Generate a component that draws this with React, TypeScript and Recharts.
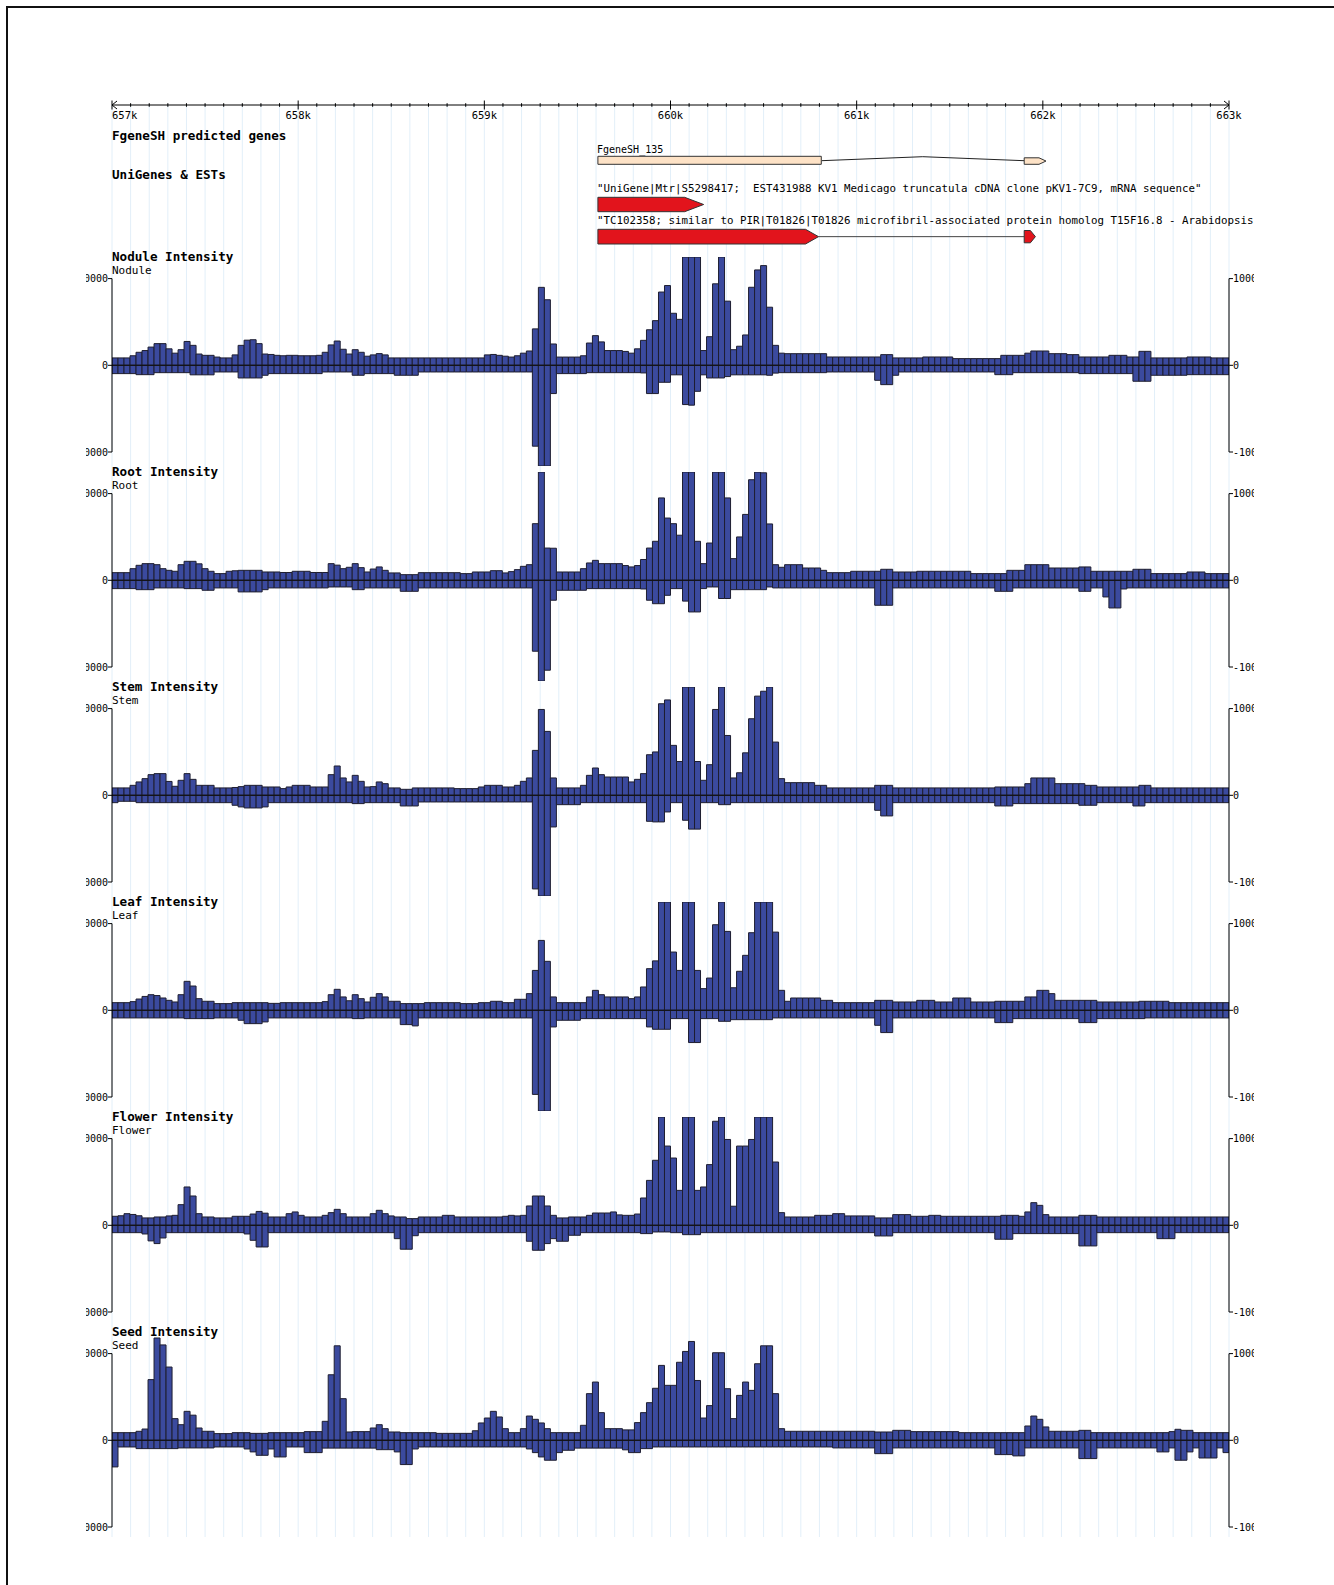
import React from 'react';
import { BarChart, Bar, XAxis, YAxis, ReferenceLine, ReferenceArea, ComposedChart, Line } from 'recharts';

// ---------------- data ----------------
const REGION_START = 657000;
const REGION_END = 663000;
const BIN_COUNT = 186;
const RULER_STEP = 100;
const Y_TICKS = [-10000, 0, 10000];

const TRACKS = ['Nodule', 'Root', 'Stem', 'Leaf', 'Flower', 'Seed'];

const NODULE_POS = [
  850, 850, 850, 1100, 1500, 1700, 2100, 2500, 2500, 1900,
  1400, 1800, 2750, 2300, 1300, 1150, 1150, 950, 850, 850,
  1200, 2300, 2900, 2950, 2500, 1300, 1250, 1150, 1100, 1150,
  1150, 1100, 1100, 1100, 1150, 1500, 2350, 2800, 1850, 1300,
  1800, 1500, 1050, 1200, 1350, 1200, 850, 850, 850, 850,
  850, 850, 850, 850, 850, 850, 850, 850, 850, 850,
  850, 850, 1200, 1250, 1150, 1050, 950, 1100, 1400, 1650,
  4200, 8990, 7560, 2460, 950, 950, 950, 950, 1100, 2570,
  3420, 2700, 1700, 1700, 1700, 1600, 1400, 1900, 2880, 4100,
  5150, 8450, 9200, 6000, 5300, 13000, 13000, 13000, 1700, 3300,
  9400, 13000, 7400, 1800, 2200, 3500, 9000, 11000, 11500, 6700,
  2300, 1400, 1340, 1340, 1340, 1340, 1340, 1340, 1340, 960,
  960, 960, 960, 960, 960, 960, 960, 960, 1230, 1230,
  850, 850, 850, 850, 850, 960, 960, 960, 960, 960,
  770, 770, 770, 770, 770, 770, 770, 770, 1150, 1150,
  1150, 1150, 1400, 1650, 1650, 1650, 1340, 1340, 1340, 1230,
  1230, 960, 960, 960, 960, 960, 1150, 1150, 1150, 960,
  960, 1610, 1610, 850, 850, 850, 850, 850, 850, 960,
  960, 960, 960, 850, 850, 850,
];
const NODULE_NEG = [
  -960, -960, -960, -960, -1080, -1080, -1080, -850, -850, -850,
  -850, -850, -850, -1100, -1100, -1100, -1100, -770, -770, -770,
  -770, -1460, -1460, -1460, -1460, -1150, -960, -960, -960, -960,
  -960, -960, -960, -960, -960, -770, -770, -770, -770, -770,
  -1150, -1150, -960, -960, -960, -960, -960, -1150, -1150, -1150,
  -1150, -770, -770, -770, -770, -770, -770, -770, -770, -770,
  -770, -770, -770, -770, -770, -770, -770, -770, -770, -770,
  -9330, -13000, -13000, -3260, -960, -960, -960, -960, -960, -850,
  -850, -850, -850, -850, -850, -850, -850, -850, -880, -3260,
  -3260, -1960, -1960, -1100, -1100, -4530, -4600, -3000, -1100, -1460,
  -1460, -1460, -1300, -1100, -1100, -1100, -1100, -1100, -1100, -1150,
  -900, -850, -850, -850, -850, -850, -850, -850, -850, -770,
  -770, -770, -770, -770, -770, -770, -770, -1730, -2230, -2230,
  -1150, -770, -770, -770, -770, -770, -770, -770, -770, -770,
  -770, -770, -770, -770, -770, -770, -770, -1080, -1080, -1080,
  -850, -850, -850, -850, -850, -850, -850, -850, -850, -850,
  -850, -960, -960, -960, -960, -960, -960, -960, -960, -960,
  -1840, -1840, -1840, -1150, -1150, -1150, -1150, -1150, -1150, -1080,
  -1080, -1080, -1080, -1080, -1080, -1080,
];

const ROOT_POS = [
  880, 880, 880, 1340, 1730, 1920, 1920, 1800, 1340, 1150,
  1040, 1800, 2190, 2190, 1900, 1340, 1040, 770, 770, 1040,
  1100, 1150, 1150, 1150, 1150, 960, 960, 960, 900, 900,
  1040, 1040, 1040, 900, 900, 900, 1920, 1750, 1340, 1500,
  1920, 1460, 960, 1300, 1540, 1150, 850, 850, 650, 650,
  650, 880, 880, 880, 880, 880, 880, 880, 770, 770,
  960, 960, 960, 1110, 1110, 850, 1000, 1230, 1610, 1800,
  6530, 13000, 3720, 3700, 960, 960, 960, 960, 1340, 2000,
  2300, 1920, 1920, 1920, 1920, 1700, 1540, 1700, 2400, 3720,
  4500, 9500, 7180, 6530, 5200, 13000, 13000, 4500, 1920, 4300,
  13000, 13000, 9500, 2500, 5000, 7600, 11600, 13000, 12400, 6500,
  1800, 1500, 1800, 1800, 1800, 1420, 1420, 1420, 1150, 880,
  880, 880, 880, 1040, 1040, 1040, 1040, 1040, 1270, 1270,
  960, 960, 960, 960, 1040, 1040, 1040, 1040, 1040, 1040,
  1040, 1040, 1040, 770, 770, 770, 770, 770, 770, 1150,
  1150, 1150, 1800, 1800, 1800, 1800, 1420, 1420, 1420, 1420,
  1420, 1540, 1540, 1040, 1040, 1040, 1040, 1040, 1040, 1040,
  1270, 1270, 1270, 770, 770, 770, 770, 770, 770, 960,
  960, 960, 770, 770, 770, 770,
];
const ROOT_NEG = [
  -960, -960, -960, -960, -1080, -1080, -1080, -880, -880, -880,
  -880, -880, -960, -960, -960, -1150, -1150, -880, -880, -880,
  -880, -1340, -1340, -1340, -1340, -1080, -880, -880, -880, -880,
  -880, -880, -880, -880, -880, -880, -770, -770, -770, -770,
  -1080, -1080, -880, -880, -880, -880, -880, -880, -1270, -1270,
  -1270, -880, -880, -880, -880, -880, -880, -880, -880, -880,
  -880, -880, -880, -880, -880, -880, -880, -880, -880, -880,
  -8180, -13000, -10370, -2300, -1150, -1150, -1150, -1150, -1150, -960,
  -960, -960, -960, -960, -960, -960, -960, -960, -1000, -2300,
  -2700, -2700, -1730, -960, -960, -2400, -3650, -3650, -960, -770,
  -770, -2100, -2100, -1080, -1080, -1080, -1080, -1080, -1080, -770,
  -880, -880, -880, -880, -880, -880, -880, -880, -880, -880,
  -880, -880, -880, -880, -880, -880, -880, -2880, -2880, -2880,
  -880, -880, -880, -880, -880, -880, -880, -880, -880, -880,
  -880, -880, -880, -880, -880, -880, -880, -1270, -1270, -1270,
  -880, -880, -880, -880, -880, -880, -880, -880, -880, -880,
  -880, -1270, -1270, -880, -880, -1920, -3190, -3190, -1000, -880,
  -880, -880, -880, -880, -880, -880, -880, -880, -880, -880,
  -880, -880, -880, -880, -880, -880,
];

const STEM_POS = [
  850, 850, 850, 1150, 1540, 1920, 2380, 2500, 2500, 1600,
  1040, 1730, 2500, 1840, 1150, 1150, 1150, 850, 850, 850,
  900, 1000, 1150, 1150, 1150, 960, 960, 960, 770, 960,
  1150, 1150, 1150, 960, 960, 960, 2380, 3380, 2000, 1540,
  2300, 1610, 960, 1000, 1540, 1340, 850, 850, 690, 690,
  850, 850, 850, 850, 850, 850, 850, 770, 770, 770,
  770, 960, 1150, 1150, 1150, 960, 960, 1150, 1610, 2000,
  5180, 9900, 7370, 2000, 850, 850, 850, 850, 1150, 2300,
  3150, 2380, 2110, 2110, 2110, 2110, 1540, 1840, 2500, 4680,
  5000, 10560, 11000, 5760, 3900, 13000, 13000, 3900, 1730, 3530,
  9900, 13000, 6900, 2000, 2600, 4900, 8830, 11440, 12000, 13000,
  6140, 1920, 1460, 1460, 1460, 1460, 1460, 1150, 1150, 850,
  850, 850, 850, 850, 850, 850, 850, 1150, 1150, 1150,
  850, 850, 850, 850, 850, 850, 850, 850, 850, 850,
  850, 850, 850, 850, 850, 850, 850, 960, 960, 960,
  960, 960, 1340, 2000, 2000, 2000, 2000, 1340, 1340, 1340,
  1340, 1340, 1150, 1150, 960, 960, 960, 960, 960, 960,
  960, 1150, 1150, 850, 850, 850, 850, 850, 850, 850,
  850, 850, 850, 850, 850, 850,
];
const STEM_NEG = [
  -850, -690, -690, -690, -850, -850, -850, -850, -850, -850,
  -850, -850, -850, -850, -850, -850, -850, -850, -850, -850,
  -1150, -1340, -1460, -1460, -1460, -1340, -850, -850, -850, -850,
  -850, -850, -850, -850, -850, -850, -850, -850, -850, -850,
  -960, -960, -850, -850, -850, -850, -850, -850, -1230, -1230,
  -1230, -770, -770, -770, -770, -770, -770, -770, -770, -770,
  -770, -770, -770, -770, -770, -770, -770, -770, -770, -770,
  -10800, -13000, -13000, -3650, -1080, -1080, -1080, -1080, -850, -850,
  -850, -850, -850, -850, -850, -850, -850, -850, -850, -3000,
  -3070, -3070, -1920, -850, -850, -2880, -3900, -3900, -850, -850,
  -850, -1080, -1080, -850, -850, -850, -850, -850, -850, -850,
  -850, -850, -850, -850, -850, -850, -850, -850, -850, -850,
  -850, -850, -850, -850, -850, -850, -850, -1730, -2380, -2380,
  -850, -850, -850, -850, -850, -850, -850, -850, -850, -850,
  -850, -850, -850, -850, -850, -850, -850, -1230, -1230, -1230,
  -960, -960, -960, -960, -960, -960, -960, -960, -960, -960,
  -960, -1150, -1150, -1150, -850, -850, -850, -850, -850, -850,
  -1230, -1230, -850, -850, -850, -850, -850, -850, -850, -850,
  -850, -850, -850, -850, -850, -850,
];

const LEAF_POS = [
  880, 880, 880, 1000, 1300, 1600, 1800, 1700, 1420, 1150,
  960, 1800, 3340, 2800, 1340, 1040, 1040, 770, 770, 770,
  880, 880, 880, 880, 880, 880, 800, 800, 880, 880,
  880, 880, 880, 880, 880, 1000, 1800, 2420, 1540, 1100,
  1800, 1340, 960, 1500, 1920, 1540, 1040, 1040, 770, 770,
  770, 770, 880, 880, 880, 880, 880, 880, 770, 770,
  770, 880, 880, 1040, 1040, 880, 880, 1270, 1270, 1920,
  4600, 8060, 5650, 1540, 880, 880, 880, 880, 880, 1540,
  2300, 1800, 1540, 1540, 1540, 1540, 1340, 1540, 2690, 4800,
  5700, 13000, 13000, 6720, 4600, 13000, 13000, 4600, 2500, 3720,
  9870, 13000, 9100, 2600, 4500, 6340, 8950, 13000, 13000, 13000,
  9020, 2300, 1040, 1420, 1420, 1420, 1420, 1420, 1150, 1150,
  880, 880, 880, 880, 880, 880, 880, 1150, 1150, 1150,
  960, 960, 960, 960, 1150, 1150, 1150, 960, 960, 960,
  1420, 1420, 1420, 960, 960, 960, 960, 1040, 1040, 1040,
  1040, 1040, 1540, 1540, 2300, 2300, 1920, 1150, 1150, 1150,
  1150, 1150, 1150, 1150, 960, 960, 960, 960, 960, 960,
  960, 1040, 1040, 1040, 1040, 1040, 880, 880, 880, 880,
  880, 880, 880, 880, 880, 880,
];
const LEAF_NEG = [
  -880, -880, -880, -880, -880, -880, -880, -880, -880, -880,
  -880, -880, -960, -960, -960, -960, -960, -880, -880, -880,
  -880, -1150, -1540, -1540, -1540, -1340, -880, -880, -880, -880,
  -880, -880, -880, -880, -880, -880, -880, -880, -880, -880,
  -960, -960, -880, -880, -880, -880, -880, -880, -1650, -1650,
  -1800, -880, -880, -880, -880, -880, -880, -880, -880, -880,
  -880, -880, -880, -880, -880, -880, -880, -880, -880, -880,
  -9700, -13000, -13000, -1920, -1150, -1150, -1150, -1150, -960, -960,
  -960, -960, -960, -960, -960, -960, -960, -960, -960, -1920,
  -2190, -2190, -2190, -960, -960, -960, -3720, -3720, -960, -960,
  -960, -1270, -1270, -1080, -1080, -1080, -1080, -1080, -1080, -1080,
  -880, -880, -880, -880, -880, -880, -880, -880, -880, -880,
  -880, -880, -880, -880, -880, -880, -880, -1730, -2570, -2570,
  -880, -880, -880, -880, -880, -880, -880, -880, -880, -880,
  -880, -880, -880, -880, -880, -880, -880, -1420, -1420, -1420,
  -960, -960, -960, -960, -960, -960, -960, -960, -960, -960,
  -960, -1420, -1420, -1420, -960, -960, -960, -960, -960, -960,
  -960, -960, -880, -880, -880, -880, -880, -880, -880, -880,
  -880, -880, -880, -880, -880, -880,
];

const FLOWER_POS = [
  1040, 1100, 1340, 1250, 1100, 850, 850, 960, 960, 1080,
  1150, 2380, 4420, 3380, 1340, 960, 960, 850, 850, 850,
  1040, 1040, 1040, 1300, 1600, 1400, 960, 960, 960, 1340,
  1540, 1150, 960, 960, 960, 1150, 1460, 1840, 1340, 960,
  960, 960, 960, 1340, 1730, 1340, 1080, 960, 960, 770,
  770, 960, 960, 960, 960, 1150, 1150, 960, 960, 960,
  960, 960, 960, 960, 960, 1040, 1150, 1080, 1150, 2230,
  3380, 3380, 2230, 1150, 850, 850, 960, 960, 960, 1150,
  1420, 1420, 1420, 1540, 1200, 1150, 1150, 1300, 3150, 5180,
  7500, 13000, 9140, 7760, 4030, 13000, 13000, 4030, 4420, 7000,
  12000, 13000, 9900, 2200, 9140, 9140, 9900, 13000, 13000, 13000,
  7300, 1460, 960, 960, 960, 960, 960, 1150, 1150, 1150,
  1340, 1340, 1080, 1080, 1080, 1080, 1080, 850, 850, 850,
  1230, 1230, 1230, 1040, 1040, 1040, 1150, 1150, 1040, 1040,
  1040, 1040, 1040, 1040, 1040, 1040, 1040, 1040, 1150, 1150,
  1150, 1040, 1540, 2610, 2300, 1230, 960, 960, 960, 960,
  960, 1150, 1150, 1150, 960, 960, 960, 960, 960, 960,
  960, 960, 960, 960, 960, 960, 960, 960, 960, 960,
  960, 960, 960, 960, 960, 960,
];
const FLOWER_NEG = [
  -850, -850, -850, -850, -850, -1000, -1800, -2110, -1460, -850,
  -850, -850, -850, -850, -850, -850, -850, -850, -850, -850,
  -850, -850, -1000, -1730, -2500, -2500, -850, -850, -850, -850,
  -850, -850, -850, -850, -850, -850, -850, -850, -850, -850,
  -850, -850, -850, -850, -850, -850, -850, -1540, -2760, -2760,
  -1200, -850, -850, -850, -850, -850, -850, -850, -850, -850,
  -850, -850, -850, -850, -850, -850, -850, -850, -850, -1840,
  -2880, -2880, -2110, -1540, -1840, -1840, -1150, -1150, -850, -850,
  -850, -850, -850, -850, -850, -850, -850, -850, -960, -960,
  -770, -770, -770, -850, -850, -1080, -1080, -1080, -850, -850,
  -850, -850, -850, -850, -850, -850, -850, -850, -850, -850,
  -850, -850, -850, -850, -850, -850, -850, -850, -850, -850,
  -850, -850, -850, -850, -850, -850, -850, -1230, -1230, -1230,
  -850, -850, -850, -850, -850, -850, -850, -850, -850, -850,
  -850, -850, -850, -850, -850, -850, -850, -1610, -1610, -1610,
  -960, -960, -960, -960, -960, -960, -960, -960, -960, -960,
  -960, -2380, -2380, -2380, -850, -850, -850, -850, -850, -850,
  -850, -850, -850, -850, -1540, -1540, -1540, -850, -850, -850,
  -850, -850, -850, -850, -850, -850,
];

const SEED_POS = [
  880, 880, 880, 880, 1040, 1300, 7000, 11800, 11000, 8450,
  2500, 1800, 3340, 2900, 1420, 1040, 1040, 770, 770, 770,
  880, 880, 880, 800, 800, 800, 880, 880, 880, 880,
  880, 880, 1000, 1000, 1000, 2190, 7560, 10900, 4800, 960,
  1000, 1000, 1000, 1420, 1800, 1340, 960, 960, 880, 880,
  880, 880, 880, 880, 800, 800, 800, 800, 800, 800,
  1100, 2000, 2570, 3340, 2690, 1340, 880, 880, 1340, 2800,
  2420, 2000, 1340, 880, 880, 880, 880, 880, 1730, 5380,
  6720, 3190, 1340, 1340, 1340, 1200, 1200, 2040, 3190, 4340,
  6000, 8640, 6340, 6340, 9000, 10250, 11400, 6900, 2570, 4000,
  10100, 10100, 5950, 2500, 5180, 6720, 5760, 8830, 10900, 10900,
  5380, 1340, 1040, 1040, 1040, 1040, 1040, 1040, 1040, 1040,
  1040, 1040, 1040, 1040, 1040, 1040, 1040, 960, 960, 960,
  1150, 1150, 1150, 1000, 1000, 1000, 1000, 1000, 1000, 1000,
  1000, 880, 880, 880, 880, 880, 880, 880, 880, 880,
  880, 880, 1650, 2800, 2420, 1540, 1040, 1040, 1040, 1040,
  1040, 1150, 1150, 880, 880, 880, 880, 880, 880, 880,
  880, 880, 880, 880, 880, 880, 1000, 1270, 1150, 1150,
  880, 880, 880, 880, 880, 880,
];
const SEED_NEG = [
  -3070, -770, -770, -770, -960, -960, -960, -960, -960, -960,
  -960, -880, -880, -880, -880, -880, -880, -770, -770, -770,
  -770, -770, -1000, -1340, -1730, -1730, -1000, -1920, -1920, -770,
  -770, -770, -1420, -1420, -1420, -900, -900, -900, -900, -900,
  -900, -900, -900, -900, -1080, -1080, -1080, -1340, -2800, -2800,
  -1000, -770, -770, -770, -770, -770, -770, -770, -770, -770,
  -770, -770, -770, -770, -770, -770, -770, -770, -770, -1000,
  -1420, -1920, -2300, -2300, -1420, -1150, -1150, -900, -900, -900,
  -900, -900, -900, -900, -900, -1100, -1420, -1420, -960, -960,
  -770, -770, -770, -770, -770, -770, -770, -770, -770, -770,
  -770, -770, -770, -770, -770, -770, -770, -770, -770, -770,
  -770, -770, -770, -770, -770, -770, -770, -770, -770, -770,
  -880, -880, -880, -880, -880, -880, -880, -1540, -1540, -1540,
  -880, -880, -880, -880, -880, -880, -880, -880, -880, -880,
  -880, -880, -880, -880, -880, -880, -880, -1650, -1650, -1650,
  -1800, -1800, -880, -880, -880, -880, -880, -880, -880, -880,
  -880, -2110, -2110, -2110, -880, -880, -880, -880, -880, -880,
  -880, -880, -880, -880, -1340, -1340, -880, -2300, -2300, -1340,
  -880, -2040, -2040, -2040, -880, -1420,
];

const SERIES_POS = [NODULE_POS, ROOT_POS, STEM_POS, LEAF_POS, FLOWER_POS, SEED_POS];
const SERIES_NEG = [NODULE_NEG, ROOT_NEG, STEM_NEG, LEAF_NEG, FLOWER_NEG, SEED_NEG];

// gene features (bp)
const FGENE_NAME = 'FgeneSH_135';
const FGENE_EXONS: [number, number][] = [[659610, 660810], [661900, 662017]];
const FGENE_INTRONS: [number, number][] = [[660810, 661900]];
const UNIGENE_LABEL = '"UniGene|Mtr|S5298417;  EST431988 KV1 Medicago truncatula cDNA clone pKV1-7C9, mRNA sequence"';
const UNIGENE_EXONS: [number, number][] = [[659610, 660178]];
const TC_LABEL = '"TC102358; similar to PIR|T01826|T01826 microfibril-associated protein homolog T15F16.8 - Arabidopsis thaliana"';
const TC_EXONS: [number, number][] = [[659610, 660795], [661900, 661960]];
const TC_INTRONS: [number, number][] = [[660795, 661900]];

// ---------------- layout / style ----------------
const PAGE_W = 1334;
const PAGE_H = 1585;
const PLOT_L = 112;
const PLOT_R = 1229;
const AXIS_W = 40;
const CLIP_L = 86;
const CLIP_R = 1254;
const FIRST_ZERO = 365;
const PANEL_STEP = 215;
const PX_ABOVE = 108.3;
const PX_BELOW = 100.7;
const PX_PER_10K = 86.7;
const PAD = 12;
const DOMAIN_MAX = (PX_ABOVE / PX_PER_10K) * 10000;
const DOMAIN_MIN = -(PX_BELOW / PX_PER_10K) * 10000;
const MONO = '"DejaVu Sans Mono", monospace';
const BAR_FILL = '#3b4a9e';
const BAR_EDGE = '#1e1e30';
const GRID_COLOR = '#e2eff9';
const GRID_TOP = 104;
const GRID_BOTTOM = 1537;
const GENE_TOP = 140;
const GENE_H = 110;

const BIN_BP = (REGION_END - REGION_START) / BIN_COUNT;
const RULER_TICKS: number[] = [];
for (let v = REGION_START; v <= REGION_END; v += RULER_STEP) RULER_TICKS.push(v);
const AXIS_DATA = [
  { x: REGION_START, y: 0 },
  { x: REGION_END, y: 0 },
];

function TextAt({ x, cy, size, bold, children }: any) {
  return (
    <div
      style={{
        position: 'absolute',
        left: x,
        top: cy - size * 0.62,
        fontSize: size,
        lineHeight: `${size * 1.2}px`,
        fontFamily: MONO,
        fontWeight: bold ? 'bold' : 'normal',
        whiteSpace: 'pre',
        color: '#000',
      }}
    >
      {children}
    </div>
  );
}

function RulerTick(props: any) {
  const { x, y, payload } = props;
  const v = payload.value;
  const major = v % 1000 === 0;
  const h = major ? 4.5 : 1.8;
  const first = v === REGION_START;
  const last = v === REGION_END;
  return (
    <g>
      <line x1={x} x2={x} y1={y - h} y2={y + h} stroke="#000" strokeWidth={1} />
      {major && (
        <text x={x} y={y + 14} textAnchor={first ? 'start' : 'middle'} fontSize={10.5} fontFamily={MONO} fill="#000">
          {`${v / 1000}k`}
        </text>
      )}
      {first && <path d={`M${x + 5},${y - 4}L${x},${y}L${x + 5},${y + 4}`} stroke="#000" fill="none" />}
      {last && <path d={`M${x - 5},${y - 4}L${x},${y}L${x - 5},${y + 4}`} stroke="#000" fill="none" />}
    </g>
  );
}

const arrowShape = (tip: number, fill: string) => (p: any) => {
  const { x, y, width, height } = p;
  const t = Math.min(tip, width);
  const pts = [
    [x, y],
    [x + width - t, y],
    [x + width, y + height / 2],
    [x + width - t, y + height],
    [x, y + height],
  ]
    .map((q) => q.join(','))
    .join(' ');
  return <polygon points={pts} fill={fill} stroke="#333" strokeWidth={1} />;
};

const hatShape = (p: any) => {
  const { x, y, width, height } = p;
  return <polyline points={`${x},${y + height} ${x + width / 2},${y} ${x + width},${y + height}`} fill="none" stroke="#222" strokeWidth={1} />;
};

const lineShape = (p: any) => {
  const { x, y, width, height } = p;
  return <line x1={x} x2={x + width} y1={y + height / 2} y2={y + height / 2} stroke="#444" strokeWidth={1} />;
};

function Panel({ idx }: { idx: number }) {
  const pos = SERIES_POS[idx];
  const neg = SERIES_NEG[idx];
  const data = pos.map((p, i) => ({ x: REGION_START + (i + 0.5) * BIN_BP, pos: p, neg: neg[i] }));
  const zero = FIRST_ZERO + idx * PANEL_STEP;
  const h = PX_ABOVE + PX_BELOW + 2 * PAD;
  const tickStyle = { fontSize: 10, fill: '#000', fontFamily: MONO };
  return (
    <>
      <TextAt x={PLOT_L} cy={zero - PX_ABOVE} size={12.6} bold>
        {`${TRACKS[idx]} Intensity`}
      </TextAt>
      <TextAt x={PLOT_L} cy={zero - 94} size={11}>
        {TRACKS[idx]}
      </TextAt>
      <div style={{ position: 'absolute', left: 0, top: zero - PX_ABOVE - PAD, width: PAGE_W, height: h }}>
        <BarChart
          width={PAGE_W}
          height={h}
          data={data}
          margin={{ top: PAD, bottom: PAD, left: PLOT_L - AXIS_W, right: PAGE_W - PLOT_R - AXIS_W }}
          stackOffset="sign"
          barCategoryGap={0}
          barGap={0}
        >
          <XAxis type="number" dataKey="x" domain={[REGION_START, REGION_END]} hide allowDataOverflow />
          <YAxis
            yAxisId="l"
            orientation="left"
            width={AXIS_W}
            domain={[DOMAIN_MIN, DOMAIN_MAX]}
            allowDataOverflow
            ticks={Y_TICKS}
            interval={0}
            axisLine={false}
            tickSize={4}
            tickMargin={0}
            tick={tickStyle}
            tickLine={{ stroke: '#000' }}
          />
          <YAxis
            yAxisId="r"
            orientation="right"
            width={AXIS_W}
            domain={[DOMAIN_MIN, DOMAIN_MAX]}
            allowDataOverflow
            ticks={Y_TICKS}
            interval={0}
            axisLine={false}
            tickSize={4}
            tickMargin={0}
            tick={tickStyle}
            tickLine={{ stroke: '#000' }}
          />
          <Bar yAxisId="l" dataKey="pos" stackId="s" fill={BAR_FILL} stroke={BAR_EDGE} strokeWidth={1} isAnimationActive={false} />
          <Bar yAxisId="l" dataKey="neg" stackId="s" fill={BAR_FILL} stroke={BAR_EDGE} strokeWidth={1} isAnimationActive={false} />
          <ReferenceLine yAxisId="l" y={0} stroke="#111" strokeWidth={1} />
          <ReferenceLine
            yAxisId="l"
            segment={[{ x: REGION_START, y: -10000 }, { x: REGION_START, y: 10000 }]}
            stroke="#000"
            strokeWidth={1}
          />
          <ReferenceLine
            yAxisId="l"
            segment={[{ x: REGION_END, y: -10000 }, { x: REGION_END, y: 10000 }]}
            stroke="#000"
            strokeWidth={1}
          />
        </BarChart>
      </div>
    </>
  );
}

export default function App() {
  return (
    <div style={{ position: 'absolute', left: 0, top: 0, width: PAGE_W, height: PAGE_H, background: '#fff', overflow: 'hidden' }}>
      <div
        style={{
          position: 'absolute',
          left: 6,
          top: 6,
          width: PAGE_W,
          height: PAGE_H,
          borderTop: '2px solid #111',
          borderLeft: '2px solid #111',
        }}
      />
      <div style={{ position: 'absolute', left: CLIP_L, top: 0, width: CLIP_R - CLIP_L, height: PAGE_H, overflow: 'hidden' }}>
        <div style={{ position: 'absolute', left: -CLIP_L, top: 0, width: PAGE_W, height: PAGE_H }}>
          {/* grid lines */}
          <div style={{ position: 'absolute', left: 0, top: GRID_TOP, width: PAGE_W, height: GRID_BOTTOM - GRID_TOP }}>
            <ComposedChart
              width={PAGE_W}
              height={GRID_BOTTOM - GRID_TOP}
              data={AXIS_DATA}
              margin={{ top: 0, bottom: 0, left: PLOT_L, right: PAGE_W - PLOT_R }}
            >
              <XAxis type="number" dataKey="x" domain={[REGION_START, REGION_END]} hide />
              <YAxis hide domain={[-1, 1]} />
              <Line dataKey="y" stroke="none" dot={false} activeDot={false} isAnimationActive={false} />
              {RULER_TICKS.map((v) => (
                <ReferenceLine key={v} x={v} stroke={GRID_COLOR} strokeWidth={1} />
              ))}
            </ComposedChart>
          </div>

          {/* ruler */}
          <div style={{ position: 'absolute', left: 0, top: 75, width: PAGE_W, height: 60 }}>
            <ComposedChart width={PAGE_W} height={60} data={AXIS_DATA} margin={{ top: 0, bottom: 0, left: PLOT_L, right: PAGE_W - PLOT_R }}>
              <XAxis
                type="number"
                dataKey="x"
                domain={[REGION_START, REGION_END]}
                ticks={RULER_TICKS}
                interval={0}
                height={30}
                tickSize={0}
                tickMargin={0}
                tickLine={false}
                axisLine={{ stroke: '#000' }}
                tick={<RulerTick />}
              />
              <YAxis hide domain={[-1, 1]} />
              <Line dataKey="y" stroke="none" dot={false} activeDot={false} isAnimationActive={false} />
            </ComposedChart>
          </div>

          {/* gene tracks */}
          <TextAt x={PLOT_L} cy={136} size={12.6} bold>
            FgeneSH predicted genes
          </TextAt>
          <TextAt x={PLOT_L} cy={175} size={12.6} bold>
            UniGenes &amp; ESTs
          </TextAt>
          <TextAt x={597} cy={150.5} size={10}>
            {FGENE_NAME}
          </TextAt>
          <TextAt x={597} cy={189.5} size={10.8}>
            {UNIGENE_LABEL}
          </TextAt>
          <TextAt x={597} cy={222} size={10.8}>
            {TC_LABEL}
          </TextAt>
          <div style={{ position: 'absolute', left: 0, top: GENE_TOP, width: PAGE_W, height: GENE_H }}>
            <ComposedChart width={PAGE_W} height={GENE_H} data={AXIS_DATA} margin={{ top: 0, bottom: 0, left: PLOT_L, right: PAGE_W - PLOT_R }}>
              <XAxis type="number" dataKey="x" domain={[REGION_START, REGION_END]} hide />
              <YAxis hide domain={[0, GENE_H]} reversed allowDataOverflow />
              <Line dataKey="y" stroke="none" dot={false} activeDot={false} isAnimationActive={false} />
              {FGENE_INTRONS.map(([a, b], i) => (
                <ReferenceArea key={`fi${i}`} x1={a} x2={b} y1={16.7} y2={20.7} ifOverflow="visible" shape={hatShape} />
              ))}
              {FGENE_EXONS.map(([a, b], i) => (
                <ReferenceArea
                  key={`fe${i}`}
                  x1={a}
                  x2={b}
                  y1={i === 0 ? 16.3 : 17.8}
                  y2={24.3}
                  ifOverflow="visible"
                  shape={arrowShape(i === FGENE_EXONS.length - 1 ? 7 : 0, '#fde2c6')}
                />
              ))}
              {UNIGENE_EXONS.map(([a, b], i) => (
                <ReferenceArea key={`ue${i}`} x1={a} x2={b} y1={57.3} y2={71.7} ifOverflow="visible" shape={arrowShape(19, '#e2141c')} />
              ))}
              {TC_INTRONS.map(([a, b], i) => (
                <ReferenceArea key={`ti${i}`} x1={a} x2={b} y1={89.3} y2={104} ifOverflow="visible" shape={lineShape} />
              ))}
              {TC_EXONS.map(([a, b], i) => (
                <ReferenceArea
                  key={`te${i}`}
                  x1={a}
                  x2={b}
                  y1={i === 0 ? 89.3 : 90.5}
                  y2={i === 0 ? 104 : 102.8}
                  ifOverflow="visible"
                  shape={arrowShape(i === 0 ? 13 : 5, '#e2141c')}
                />
              ))}
            </ComposedChart>
          </div>

          {TRACKS.map((_, i) => (
            <Panel key={i} idx={i} />
          ))}
        </div>
      </div>
    </div>
  );
}
